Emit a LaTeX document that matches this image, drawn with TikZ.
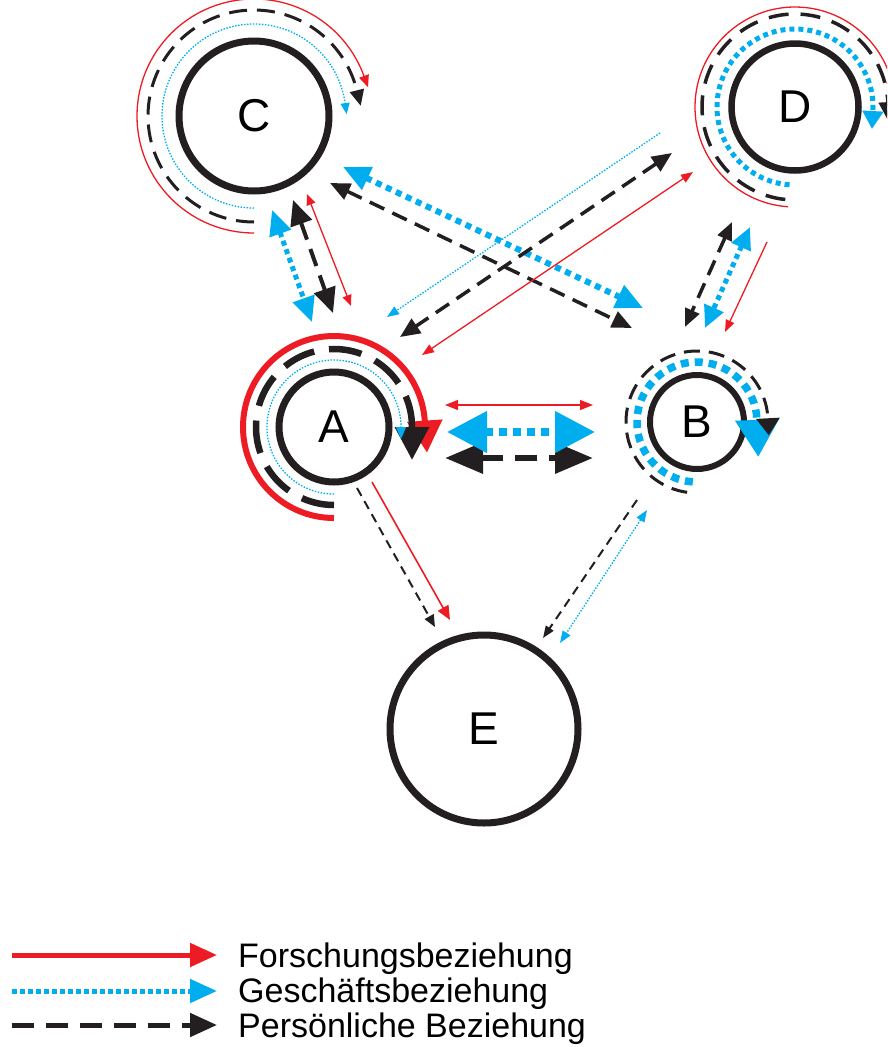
\documentclass[tikz,border=0pt]{standalone}
\usepackage{fontspec}
\setmainfont{Liberation Sans}
\usetikzlibrary{arrows.meta,calc}
\definecolor{fred}{RGB}{237,28,36}
\definecolor{gblue}{RGB}{0,174,239}
\definecolor{pblack}{RGB}{35,31,32}

\begin{document}
\begin{tikzpicture}[x=1pt,y=1pt,
  actor/.style={circle, draw=pblack, inner sep=0pt, font=\fontsize{46}{46}\selectfont},
  % Forschungsbeziehung
  foThin/.style={draw=fred, line width=1.3pt},
  foLeg/.style={draw=fred, line width=5pt},
  foThick/.style={draw=fred, line width=6pt},
  % Geschaeftsbeziehung
  geThin/.style={draw=gblue, line width=1.3pt, dash pattern=on 1.5pt off 1.5pt},
  geMid/.style={draw=gblue, line width=5pt, dash pattern=on 5pt off 4pt},
  geLeg/.style={draw=gblue, line width=5pt, dash pattern=on 5pt off 3pt},
  geThick/.style={draw=gblue, line width=7.5pt, dash pattern=on 8pt off 6pt},
  % Persoenliche Beziehung
  peThin/.style={draw=pblack, line width=2pt, dash pattern=on 9pt off 6pt},
  peMid/.style={draw=pblack, line width=3.5pt, dash pattern=on 16pt off 9pt},
  peLeg/.style={draw=pblack, line width=5pt, dash pattern=on 22pt off 12pt},
  peThick/.style={draw=pblack, line width=6.5pt, dash pattern=on 26pt off 10pt},
  hd/.style 2 args={>={Triangle[length=#1pt,width=#2pt]}},
]
\useasboundingbox (0,-1047) rectangle (887,0);
\clip (0,-1047) rectangle (887,0);

% actors
\node[actor, line width=7pt, minimum size=150pt] (C) at (254,-116) {C};
\node[actor, line width=6.5pt, minimum size=127pt] (D) at (795,-107) {D};
\node[actor, line width=7pt, minimum size=110pt] (A) at (334,-427) {A};
\node[actor, line width=6pt, minimum size=94pt] (B) at (697,-422) {B};
\node[actor, line width=7pt, minimum size=188pt] (E) at (484,-729) {E};

% self relations of C
\draw[foThin, hd={12}{10}, ->] ([shift={(270:117)}]C.center) arc[start angle=270, end angle=20, radius=117] -- ++(-70:12);
\draw[peMid, line width=3pt, dash pattern=on 18pt off 10pt, hd={16}{14}, ->] ([shift={(270:106)}]C.center) arc[start angle=270, end angle=14, radius=106] -- ++(-76:16);
\draw[geThin, hd={11}{9}, ->] ([shift={(270:92)}]C.center) arc[start angle=270, end angle=8, radius=92] -- ++(-82:11);

% self relations of D
\draw[foThin, hd={14}{11}, ->] ([shift={(266:100)}]D.center) arc[start angle=266, end angle=15, radius=100] -- ++(-75:14);
\draw[peMid, dash pattern=on 20pt off 12pt, hd={20}{18}, ->] ([shift={(264:93)}]D.center) arc[start angle=264, end angle=3, radius=93] -- ++(-87:20);
\draw[geMid, hd={18}{20}, ->] ([shift={(266:78)}]D.center) arc[start angle=266, end angle=-3, radius=78] -- ++(-93:18);

% self relations of A
\draw[foThick, hd={32}{34}, ->] ([shift={(270:91)}]A.center) arc[start angle=270, end angle=4, radius=91] -- ++(-86:32);
\draw[peThick, dash pattern=on 33pt off 15pt, hd={33}{33}, ->] ([shift={(270:78)}]A.center) arc[start angle=270, end angle=0, radius=78] -- ++(-90:33);
\draw[geThin, hd={12}{10}, ->] ([shift={(270:67)}]A.center) arc[start angle=270, end angle=0, radius=67] -- ++(-90:12);

% self relations of B
\draw[geThick, hd={37}{42}, ->] ([shift={(266:60)}]B.center) arc[start angle=266, end angle=2, radius=60] -- ++(-88:37);
\draw[peMid, line width=3pt, dash pattern=on 16pt off 9pt, hd={17}{23}, ->] ([shift={(262:71)}]B.center) arc[start angle=262, end angle=3, radius=71] -- ++(-87:17);

% connector end points
\coordinate (ca-g1) at (272,-210); \coordinate (ca-g2) at (312,-322);
\coordinate (ca-p1) at (293,-200); \coordinate (ca-p2) at (333,-313);
\coordinate (ca-f1) at (307,-194); \coordinate (ca-f2) at (351,-306);
\coordinate (cb-g1) at (343,-167); \coordinate (cb-g2) at (643,-308);
\coordinate (cb-p1) at (330,-183); \coordinate (cb-p2) at (632,-328);
\coordinate (da-g1) at (660,-133); \coordinate (da-g2) at (387,-317);
\coordinate (da-p1) at (672,-153); \coordinate (da-p2) at (400,-337);
\coordinate (da-f1) at (693,-172); \coordinate (da-f2) at (422,-355);
\coordinate (db-p1) at (732,-222); \coordinate (db-p2) at (685,-327);
\coordinate (db-g1) at (750,-227); \coordinate (db-g2) at (705,-328);
\coordinate (db-f1) at (767,-242); \coordinate (db-f2) at (725,-332);
\coordinate (ab-f1) at (445,-405); \coordinate (ab-f2) at (593,-405);
\coordinate (ab-g1) at (447,-432); \coordinate (ab-g2) at (595,-432);
\coordinate (ab-p1) at (445,-458); \coordinate (ab-p2) at (593,-458);
\coordinate (ae-p1) at (357,-488); \coordinate (ae-p2) at (435,-627);
\coordinate (ae-f1) at (372,-482); \coordinate (ae-f2) at (450,-620);
\coordinate (be-p1) at (637,-500); \coordinate (be-p2) at (543,-638);
\coordinate (be-g1) at (647,-510); \coordinate (be-g2) at (560,-643);

% C -- A
\draw[geMid, hd={25}{22}, <->] (ca-g1) -- (ca-g2);
\draw[peMid, line width=4pt, dash pattern=on 18pt off 10pt, hd={25}{22}, <->] (ca-p1) -- (ca-p2);
\draw[foThin, hd={11}{9}, <->] (ca-f1) -- (ca-f2);

% C -- B
\draw[peMid, hd={20}{17}, <->] (cb-p1) -- (cb-p2);
\draw[geMid, line width=6pt, dash pattern=on 6pt off 5pt, hd={27}{24}, <->] (cb-g1) -- (cb-g2);

% D -- A
\draw[geThin, hd={12}{9}, ->] (da-g1) -- (da-g2);
\draw[peMid, hd={20}{17}, <->] (da-p1) -- (da-p2);
\draw[foThin, hd={12}{9}, <->] (da-f1) -- (da-f2);

% D -- B
\draw[peMid, hd={18}{15}, <->] (db-p1) -- (db-p2);
\draw[geMid, hd={22}{20}, <->] (db-g1) -- (db-g2);
\draw[foThin, hd={12}{9}, ->] (db-f1) -- (db-f2);

% A -- B
\draw[foThin, hd={13}{10}, <->] (ab-f1) -- (ab-f2);
\draw[peThick, dash pattern=on 22pt off 12pt, hd={38}{30}, <->] (ab-p1) -- (ab-p2);
\draw[geThick, hd={40}{40}, <->] (ab-g1) -- (ab-g2);

% A -- E
\draw[peThin, hd={12}{10}, ->] (ae-p1) -- (ae-p2);
\draw[foThin, line width=1.6pt, hd={14}{12}, ->] (ae-f1) -- (ae-f2);

% B -- E
\draw[peThin, hd={12}{9}, ->] (be-p1) -- (be-p2);
\draw[geThin, hd={12}{9}, <->] (be-g1) -- (be-g2);

% legend
\coordinate (lf-a) at (12,-955);  \coordinate (lf-b) at (217,-955);
\coordinate (lg-a) at (12,-991);  \coordinate (lg-b) at (217,-991);
\coordinate (lp-a) at (12,-1025); \coordinate (lp-b) at (217,-1025);
\draw[foLeg, hd={27}{23}, ->] (lf-a) -- (lf-b);
\draw[geLeg, hd={27}{23}, ->] (lg-a) -- (lg-b);
\draw[peLeg, hd={27}{23}, ->] (lp-a) -- (lp-b);
\begin{scope}[every node/.style={anchor=base west, inner sep=0pt, font=\fontsize{34}{34}\selectfont}]
  \node (tf) at (238,-967) {Forschungsbeziehung};
  \node (tg) at (238,-1002) {Geschäftsbeziehung};
  \node (tp) at (238,-1037) {Persönliche Beziehung};
\end{scope}
\end{tikzpicture}
\end{document}
